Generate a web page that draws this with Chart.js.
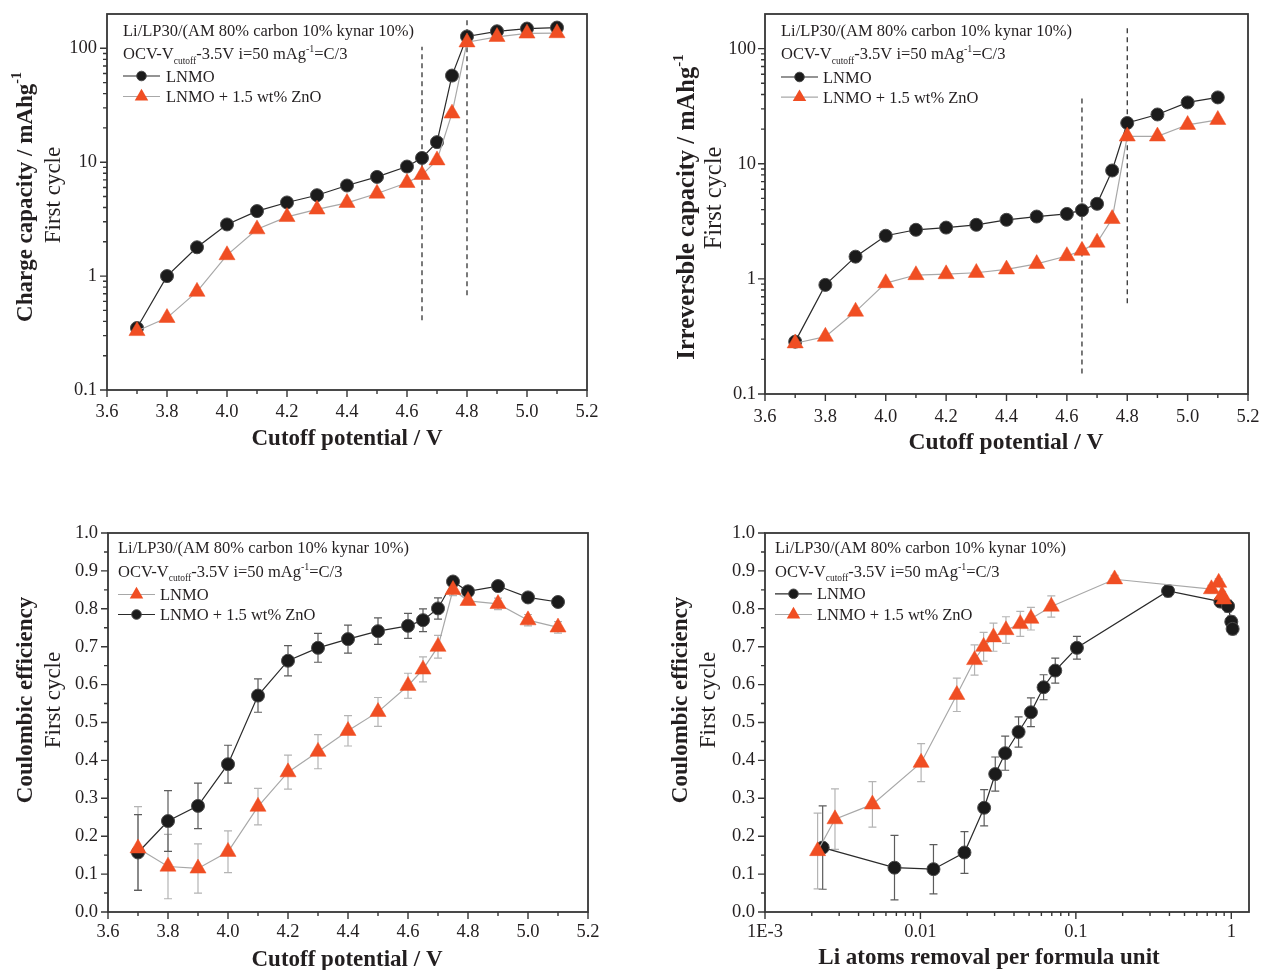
<!DOCTYPE html>
<html><head><meta charset="utf-8">
<script src="https://cdn.jsdelivr.net/npm/chart.js@4.4.0/dist/chart.umd.min.js"></script>
<style>
html,body{margin:0;padding:0;background:#fff;}
body{width:1262px;height:970px;position:relative;overflow:hidden;}
canvas{position:absolute;}
</style></head><body>
<canvas id="c1" width="640" height="485" style="left:0px;top:0px"></canvas>
<canvas id="c2" width="622" height="485" style="left:640px;top:0px"></canvas>
<canvas id="c3" width="640" height="485" style="left:0px;top:485px"></canvas>
<canvas id="c4" width="622" height="485" style="left:640px;top:485px"></canvas>
<script>
// ---------------- DATA ----------------
const potentials = [3.7,3.8,3.9,4.0,4.1,4.2,4.3,4.4,4.5,4.6,4.65,4.7,4.75,4.8,4.9,5.0,5.1];

const chargeLNMO = [0.35,1.0,1.79,2.84,3.72,4.43,5.13,6.24,7.43,9.16,10.9,15.0,57.6,127,141,149,152];
const chargeZnO  = [0.33,0.43,0.73,1.53,2.58,3.31,3.85,4.4,5.31,6.59,7.74,10.4,26.8,113,126,135,136];

const irrevLNMO = [0.285,0.887,1.56,2.37,2.67,2.79,2.95,3.26,3.48,3.67,3.95,4.49,8.74,22.6,26.8,34.1,37.7];
const irrevZnO  = [0.276,0.315,0.52,0.92,1.08,1.10,1.13,1.21,1.35,1.58,1.76,2.07,3.32,17.3,17.3,21.8,24.1];

const ceLNMO    = [0.168,0.120,0.115,0.159,0.278,0.369,0.423,0.478,0.528,0.597,0.640,0.700,0.850,0.821,0.813,0.770,0.751];
const ceLNMOErr = [0.11,0.085,0.065,0.055,0.048,0.045,0.045,0.04,0.038,0.033,0.033,0.03,0.015,0.01,0.015,0.015,0.015];
const ceZnO     = [0.157,0.240,0.280,0.390,0.571,0.663,0.697,0.720,0.741,0.755,0.770,0.801,0.872,0.846,0.860,0.830,0.818];
const ceZnOErr  = [0.10,0.08,0.06,0.05,0.044,0.04,0.038,0.037,0.035,0.033,0.03,0.028,0.01,0.01,0.01,0.01,0.01];

const liRemovalLNMO = [0.00235,0.00681,0.01213,0.0192,0.0257,0.0303,0.0351,0.0428,0.0514,0.0620,0.0737,0.1016,0.392,0.851,0.953,1.0,1.02];
const ceLiLNMO      = [0.170,0.117,0.113,0.157,0.275,0.364,0.419,0.475,0.527,0.593,0.637,0.697,0.847,0.819,0.807,0.766,0.747];
const liRemovalZnO  = [0.00218,0.00282,0.00491,0.0101,0.01715,0.0223,0.0255,0.0295,0.0355,0.0439,0.0514,0.0695,0.1775,0.745,0.83,0.873,0.894];
const ceLiZnO       = [0.161,0.245,0.284,0.394,0.573,0.665,0.700,0.725,0.744,0.760,0.774,0.806,0.878,0.852,0.869,0.836,0.825];

// dashed guide lines: [x, yFrom, yTo]
const chargeGuides = [[4.65,0.41,103],[4.8,0.68,176]];
const irrevGuides  = [[4.65,0.151,38],[4.8,0.615,156]];

// tick values / labels
const voltTicks  = [3.6,3.8,4.0,4.2,4.4,4.6,4.8,5.0,5.2];
const voltLabels = ['3.6','3.8','4.0','4.2','4.4','4.6','4.8','5.0','5.2'];
const voltMinor  = [3.7,3.9,4.1,4.3,4.5,4.7,4.9,5.1];
const capTicks   = [0.1,1,10,100];
const capLabels  = ['0.1','1','10','100'];
const ceTicks    = [0,0.1,0.2,0.3,0.4,0.5,0.6,0.7,0.8,0.9,1.0];
const ceLabels   = ['0.0','0.1','0.2','0.3','0.4','0.5','0.6','0.7','0.8','0.9','1.0'];
const liTicks    = [0.001,0.01,0.1,1];
const liLabels   = ['1E-3','0.01','0.1','1'];

const noteLine1 = 'Li/LP30/(AM 80% carbon 10% kynar 10%)';
const seriesA = 'LNMO';
const seriesB = 'LNMO + 1.5 wt% ZnO';

// ---------------- STYLE ----------------
const FONT = '"Liberation Serif", "Times New Roman", serif';
const INK = '#231f20';
const BLACK_MARK = '#1b1b1b';
const ORANGE = '#f04e23';
const DARK_LINE = '#2a2a2a';
const LIGHT_LINE = '#a8a8a8';
const DARK_ERR = '#5c5c5c';
const LIGHT_ERR = '#b4b4b4';

function logMinor(lo, hi){ const out=[]; for(let d=lo; d<hi; d*=10){ for(let k=2;k<=9;k++){ const v=+(d*k).toPrecision(3); if(v<hi) out.push(v);} } return out; }
function linMinor(vals){ const out=[]; for(let i=0;i<vals.length-1;i++) out.push(+((vals[i]+vals[i+1])/2).toFixed(3)); return out; }

function pts(xs, ys){ return xs.map((x,i)=>({x:x, y:ys[i]})); }
function seriesDS(label, xs, ys, kind){
  const dark = kind==='circle';
  return { label, data: pts(xs,ys), showLine:true,
    borderColor: dark?DARK_LINE:LIGHT_LINE, borderWidth:1.2,
    pointStyle: dark?'circle':'triangle', pointRadius: dark?6.5:9.3, pointHoverRadius: dark?6.5:9.3,
    pointBackgroundColor: dark?BLACK_MARK:ORANGE, pointBorderColor: dark?'#4a4a4a':ORANGE,
    pointBorderWidth: dark?1:0.5, order: dark?1:0, tension:0 };
}
function dashDS(g){ return { data:[{x:g[0],y:g[1]},{x:g[0],y:g[2]}], showLine:true, borderColor:'#222', borderWidth:1.2, borderDash:[5,4], pointRadius:0, order:2 }; }

function axisCfg(type, min, max, ticks, labels, pad, size){
  return { type, min, max,
    afterBuildTicks: s => { s.ticks = ticks.map(v=>({value:v})); },
    ticks:{ autoSkip:false, maxRotation:0, minRotation:0, padding:pad, color:INK, font:{family:FONT, size:size}, callback:(v,i)=>labels[i] },
    grid:{display:false, drawTicks:false}, border:{display:false} };
}

function runsWidth(ctx, runs){ let w=0; runs.forEach(r=>{ ctx.font=(r.bold?'bold ':'')+r.size+'px '+FONT; w+=ctx.measureText(r.t).width; }); return w; }
function drawRuns(ctx, runs, x, y){ let cx=x; runs.forEach(r=>{ ctx.font=(r.bold?'bold ':'')+r.size+'px '+FONT; ctx.fillText(r.t, cx, y+(r.dy||0)); cx+=ctx.measureText(r.t).width; }); }

function drawMarker(ctx, kind, x, y, r){
  ctx.beginPath();
  if(kind==='circle'){ ctx.arc(x,y,r,0,Math.PI*2); ctx.fillStyle=BLACK_MARK; ctx.fill(); ctx.strokeStyle='#4a4a4a'; ctx.lineWidth=1; ctx.stroke(); }
  else { let a=0; ctx.moveTo(x+Math.sin(a)*r, y-Math.cos(a)*r); a+=2*Math.PI/3; ctx.lineTo(x+Math.sin(a)*r, y-Math.cos(a)*r); a+=2*Math.PI/3; ctx.lineTo(x+Math.sin(a)*r, y-Math.cos(a)*r); ctx.closePath(); ctx.fillStyle=ORANGE; ctx.fill(); }
}

function decor(spec){
  return {
    id:'decor',
    beforeDatasetsDraw(chart){
      const ctx=chart.ctx, xs=chart.scales.x, ys=chart.scales.y;
      (spec.errors||[]).forEach(eb=>{
        ctx.save(); ctx.strokeStyle=eb.color; ctx.lineWidth=1.2;
        eb.xs.forEach((x,i)=>{
          const px=xs.getPixelForValue(x), pt=ys.getPixelForValue(eb.ys[i]+eb.errs[i]), pb=ys.getPixelForValue(eb.ys[i]-eb.errs[i]);
          ctx.beginPath(); ctx.moveTo(px,pt); ctx.lineTo(px,pb);
          ctx.moveTo(px-4,pt); ctx.lineTo(px+4,pt); ctx.moveTo(px-4,pb); ctx.lineTo(px+4,pb); ctx.stroke();
        });
        ctx.restore();
      });
    },
    afterDraw(chart){
      const ctx=chart.ctx, a=chart.chartArea, xs=chart.scales.x, ys=chart.scales.y;
      const ox=spec.off[0], oy=spec.off[1];
      ctx.save();
      // frame
      ctx.strokeStyle='#363636'; ctx.lineWidth=1.8;
      ctx.strokeRect(a.left, a.top, a.right-a.left, a.bottom-a.top);
      // tick marks (outward)
      ctx.lineWidth=1.4; ctx.beginPath();
      spec.xMajor.forEach(v=>{ const p=xs.getPixelForValue(v); ctx.moveTo(p,a.bottom); ctx.lineTo(p,a.bottom+7); });
      spec.xMinor.forEach(v=>{ const p=xs.getPixelForValue(v); ctx.moveTo(p,a.bottom); ctx.lineTo(p,a.bottom+4); });
      spec.yMajor.forEach(v=>{ const p=ys.getPixelForValue(v); ctx.moveTo(a.left,p); ctx.lineTo(a.left-7,p); });
      spec.yMinor.forEach(v=>{ const p=ys.getPixelForValue(v); ctx.moveTo(a.left,p); ctx.lineTo(a.left-4,p); });
      ctx.stroke();
      ctx.fillStyle=INK;
      // x title
      ctx.textAlign='center'; ctx.textBaseline='middle';
      ctx.font='bold '+spec.xTitle.size+'px '+FONT;
      ctx.fillText(spec.xTitle.text, spec.xTitle.x-ox, spec.xTitle.y-oy);
      // y titles (rotated)
      ctx.textAlign='left';
      spec.yTitles.forEach(t=>{
        ctx.save(); ctx.translate(t.x-ox, t.y-oy); ctx.rotate(-Math.PI/2);
        const w=runsWidth(ctx,t.runs); drawRuns(ctx,t.runs,-w/2,0); ctx.restore();
      });
      // annotation
      const an=spec.ann; const L=an.x-ox; const b=an.base.map(v=>v-oy);
      ctx.textBaseline='alphabetic'; ctx.textAlign='left'; ctx.fillStyle=INK;
      drawRuns(ctx,[{t:noteLine1,size:16.5}],L,b[0]);
      drawRuns(ctx,[{t:'OCV-V',size:16.5},{t:'cutoff',size:9.5,dy:4.5},{t:'-3.5V i=50 mAg',size:16.5},{t:'-1',size:10,dy:-7},{t:'=C/3',size:16.5}],L,b[1]);
      spec.legend.forEach((it,i)=>{
        const y=b[2+i]-5.5;
        ctx.strokeStyle= it.kind==='circle'?DARK_LINE:LIGHT_LINE; ctx.lineWidth=1.2;
        ctx.beginPath(); ctx.moveTo(L,y); ctx.lineTo(L+an.lineLen,y); ctx.stroke();
        drawMarker(ctx,it.kind,L+an.lineLen/2,y,it.kind==='circle'?4.8:7.8);
        ctx.fillStyle=INK; drawRuns(ctx,[{t:it.text,size:16.5}],L+an.textDx,b[2+i]);
      });
      ctx.restore();
    }
  };
}

function zeroPad(s){ s.paddingTop=0; s.paddingBottom=0; s.paddingLeft=0; s.paddingRight=0; }

function makePanel(id, spec, datasets, xAxis, yAxis){
  const cv=document.getElementById(id);
  const W=cv.width, H=cv.height, ox=spec.off[0], oy=spec.off[1], A=spec.area;
  xAxis.afterFit = s=>{ s.height = oy+H-A.b; zeroPad(s); };
  yAxis.afterFit = s=>{ s.width = A.l-ox; zeroPad(s); };
  new Chart(cv,{ type:'scatter', data:{datasets},
    options:{ responsive:false, animation:false, events:[],
      layout:{autoPadding:false, padding:{left:0, top:A.t-oy, right:ox+W-A.r, bottom:0}},
      plugins:{legend:{display:false}, tooltip:{enabled:false}},
      scales:{x:xAxis, y:yAxis} },
    plugins:[decor(spec)] });
}

const legendAB = [{kind:'circle',text:seriesA},{kind:'triangle',text:seriesB}];
const capMinor = logMinor(0.1,200);
const ceMinor = linMinor(ceTicks);
const liMinor = logMinor(0.001,1.3);

// Panel 1: charge capacity
makePanel('c1',{ off:[0,0], area:{l:107,r:587,t:14,b:390},
  xMajor:voltTicks, xMinor:voltMinor, yMajor:capTicks, yMinor:capMinor,
  xTitle:{text:'Cutoff potential / V', x:347, y:439, size:23},
  yTitles:[{x:26,y:197,runs:[{t:'Charge capacity / mAhg',size:23,bold:true},{t:'-1',size:14,bold:true,dy:-9}]},
           {x:54,y:195,runs:[{t:'First cycle',size:23}]}],
  ann:{x:123, base:[36,59,81.5,102], lineLen:37, textDx:43}, legend:legendAB },
  [seriesDS(seriesB,potentials,chargeZnO,'triangle'), seriesDS(seriesA,potentials,chargeLNMO,'circle'), ...chargeGuides.map(dashDS)],
  axisCfg('linear',3.6,5.2,voltTicks,voltLabels,11,18.5),
  axisCfg('logarithmic',0.1,200,capTicks,capLabels,10,18.5));

// Panel 2: irreversible capacity
makePanel('c2',{ off:[640,0], area:{l:765,r:1248,t:14,b:394},
  xMajor:voltTicks, xMinor:voltMinor, yMajor:capTicks, yMinor:capMinor,
  xTitle:{text:'Cutoff potential / V', x:1006, y:443, size:23.5},
  yTitles:[{x:688,y:207,runs:[{t:'Irreversble capacity / mAhg',size:24.5,bold:true},{t:'-1',size:15,bold:true,dy:-9}]},
           {x:715,y:198,runs:[{t:'First cycle',size:24.5}]}],
  ann:{x:781, base:[36,59.3,82.5,102.7], lineLen:37, textDx:42}, legend:legendAB },
  [seriesDS(seriesB,potentials,irrevZnO,'triangle'), seriesDS(seriesA,potentials,irrevLNMO,'circle'), ...irrevGuides.map(dashDS)],
  axisCfg('linear',3.6,5.2,voltTicks,voltLabels,12,18.5),
  axisCfg('logarithmic',0.1,200,capTicks,capLabels,9,18.5));

// Panel 3: coulombic efficiency vs potential
makePanel('c3',{ off:[0,485], area:{l:108,r:588,t:533,b:912},
  xMajor:voltTicks, xMinor:voltMinor, yMajor:ceTicks, yMinor:ceMinor,
  xTitle:{text:'Cutoff potential / V', x:347, y:960, size:23},
  yTitles:[{x:26,y:700,runs:[{t:'Coulombic efficiency',size:23,bold:true}]},
           {x:54,y:700,runs:[{t:'First cycle',size:23}]}],
  ann:{x:118, base:[553.3,576.7,600,620], lineLen:37, textDx:42},
  legend:[{kind:'triangle',text:seriesA},{kind:'circle',text:seriesB}],
  errors:[{xs:potentials,ys:ceLNMO,errs:ceLNMOErr,color:LIGHT_ERR},{xs:potentials,ys:ceZnO,errs:ceZnOErr,color:DARK_ERR}] },
  [seriesDS(seriesA,potentials,ceLNMO,'triangle'), seriesDS(seriesB,potentials,ceZnO,'circle')],
  axisCfg('linear',3.6,5.2,voltTicks,voltLabels,9.5,18.5),
  axisCfg('linear',0,1,ceTicks,ceLabels,10,18.5));

// Panel 4: coulombic efficiency vs Li removal
makePanel('c4',{ off:[640,485], area:{l:765,r:1249,t:533,b:912},
  xMajor:liTicks, xMinor:liMinor, yMajor:ceTicks, yMinor:ceMinor,
  xTitle:{text:'Li atoms removal per formula unit', x:989, y:958, size:23},
  yTitles:[{x:681,y:700,runs:[{t:'Coulombic efficiency',size:23,bold:true}]},
           {x:709,y:700,runs:[{t:'First cycle',size:23}]}],
  ann:{x:775, base:[553.3,576.7,599.3,620], lineLen:37, textDx:42}, legend:legendAB,
  errors:[{xs:liRemovalLNMO,ys:ceLiLNMO,errs:ceLNMOErr,color:DARK_ERR},{xs:liRemovalZnO,ys:ceLiZnO,errs:ceZnOErr,color:LIGHT_ERR}] },
  [seriesDS(seriesB,liRemovalZnO,ceLiZnO,'triangle'), seriesDS(seriesA,liRemovalLNMO,ceLiLNMO,'circle')],
  axisCfg('logarithmic',0.001,1.3,liTicks,liLabels,9.5,18.5),
  axisCfg('linear',0,1,ceTicks,ceLabels,10,18.5));
</script>
</body></html>
